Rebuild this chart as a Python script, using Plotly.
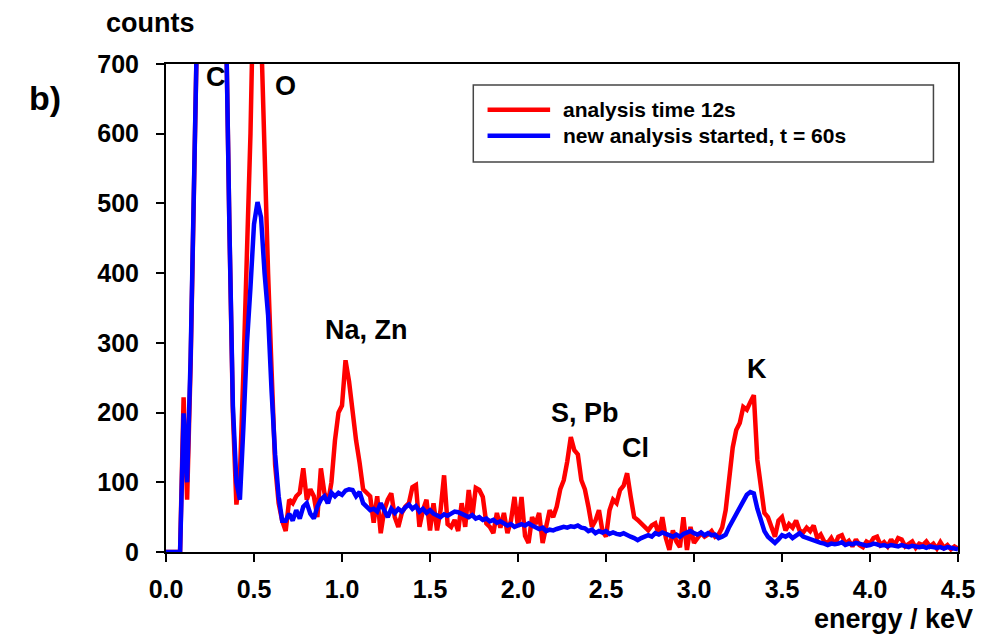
import numpy as np
import plotly.graph_objects as go

# Energy channels (keV), 0.02 keV spacing
energy = np.round(np.arange(0.0, 4.5001, 0.02), 2)

# Counts, 12 s acquisition
counts_12s = [
    0, 0, 0, 0, 0, 222, 75, 270, 520, 800,
    1100, 1300, 1450, 1500, 1450, 1300, 1050, 780, 470, 200,
    68, 110, 260, 420, 600, 850, 900, 750, 560, 400,
    260, 125, 70, 45, 30, 75, 70, 80, 85, 120,
    75, 90, 80, 50, 120, 85, 70, 100, 160, 200,
    210, 275, 245, 200, 160, 128, 90, 85, 80, 42,
    80, 27, 60, 75, 84, 50, 36, 56, 65, 70,
    93, 96, 36, 60, 75, 31, 70, 31, 60, 110,
    40, 36, 46, 30, 70, 36, 89, 50, 92, 89,
    79, 41, 36, 27, 56, 35, 56, 27, 45, 79,
    36, 79, 23, 13, 50, 40, 56, 13, 40, 60,
    50, 65, 90, 103, 130, 165, 146, 140, 103, 90,
    65, 36, 45, 60, 30, 22, 60, 75, 70, 89,
    95, 113, 80, 50, 46, 41, 35, 31, 38, 41,
    25, 50, 20, 3, 31, 15, 7, 50, 3, 36,
    13, 20, 27, 22, 25, 30, 22, 25, 35, 60,
    103, 150, 175, 185, 208, 204, 215, 225, 132, 90,
    56, 50, 36, 22, 45, 50, 31, 40, 35, 45,
    31, 28, 35, 30, 38, 20, 25, 15, 13, 20,
    10, 22, 24, 12, 16, 8, 18, 10, 7, 15,
    12, 20, 22, 10, 14, 8, 18, 10, 20, 18,
    8, 12, 15, 6, 12, 10, 15, 8, 12, 5,
    14, 6, 10, 4, 8, 5,
]

# Counts, new analysis started at t = 60 s
counts_60s = [
    0, 0, 0, 0, 0, 199, 100, 280, 520, 800,
    1100, 1300, 1450, 1500, 1450, 1300, 1050, 780, 470, 210,
    100, 75, 180, 300, 380, 470, 502, 480, 400, 340,
    230, 140, 80, 45, 45, 55, 45, 60, 48, 65,
    70, 55, 48, 65, 75, 80, 70, 85, 80, 85,
    82, 88, 90, 89, 80, 86, 70, 65, 60, 62,
    58, 70, 60, 50, 62, 56, 62, 58, 64, 68,
    62, 66, 58, 62, 56, 60, 55, 52, 50, 54,
    52, 55, 58, 57, 55, 52, 50, 53, 48, 50,
    46, 48, 44, 46, 42, 44, 40, 38, 40, 36,
    38, 40, 38, 41, 38, 36, 33, 35, 30, 32,
    31, 33, 34, 36, 35, 37, 36, 38, 35, 34,
    30, 32, 27, 30, 28, 30, 26, 28, 26, 25,
    27, 24, 22, 20, 17, 20, 22, 24, 22, 27,
    25, 28, 26, 24, 22, 25, 22, 26, 28, 30,
    27, 25, 28, 24, 27, 24, 25, 20, 22, 25,
    36, 45, 55, 65, 75, 82, 86, 84, 62, 46,
    30, 22, 18, 13, 18, 24, 22, 25, 20, 24,
    27, 22, 20, 18, 16, 14, 13, 12, 10, 12,
    11, 12, 14, 10, 12, 11, 13, 12, 10, 9,
    10, 12, 11, 9, 10, 8, 10, 9, 8, 10,
    9, 7, 9, 8, 7, 8, 6, 8, 7, 6,
    7, 5, 7, 6, 5, 4,
]

series_names = ["analysis time 12s", "new analysis started, t = 60s"]
series_colors = ["rgb(255,0,0)", "rgb(0,0,255)"]

# Element labels and where they sit (keV, counts)
peak_labels = ["C", "O", "Na, Zn", "S, Pb", "Cl", "K"]
peak_label_e = [0.285, 0.68, 1.14, 2.38, 2.67, 3.36]
peak_label_c = [681, 669, 318, 200, 149, 263]

x_ticks = [0.0, 0.5, 1.0, 1.5, 2.0, 2.5, 3.0, 3.5, 4.0, 4.5]
y_ticks = [0, 100, 200, 300, 400, 500, 600, 700]

FONT = "Liberation Sans"
bold = dict(family=FONT, color="black", weight="bold")

fig = go.Figure()
for counts, name, color in zip([counts_12s, counts_60s], series_names, series_colors):
    fig.add_trace(go.Scatter(
        x=energy, y=counts, mode="lines", name=name,
        line=dict(color=color, width=4.5), showlegend=False,
    ))

for text, e, c in zip(peak_labels, peak_label_e, peak_label_c):
    fig.add_annotation(x=e, y=c, text=text, showarrow=False,
                       font=dict(bold, size=27), xanchor="center", yanchor="middle")

# Legend box drawn in paper coordinates
lx0, lx1, ly0, ly1 = 0.388, 0.969, 0.799, 0.957
fig.add_shape(type="rect", xref="paper", yref="paper", x0=lx0, x1=lx1, y0=ly0, y1=ly1,
              line=dict(color="rgb(70,70,70)", width=1.5), fillcolor="white", layer="above")
for i, (name, color) in enumerate(zip(series_names, series_colors)):
    yy = 0.906 - i * 0.053
    fig.add_shape(type="line", xref="paper", yref="paper", x0=0.406, x1=0.485, y0=yy, y1=yy,
                  line=dict(color=color, width=4.5), layer="above")
    fig.add_annotation(xref="paper", yref="paper", x=0.499, y=yy, text=name, showarrow=False,
                       xanchor="left", yanchor="middle", font=dict(bold, size=21))

fig.add_annotation(xref="paper", yref="paper", x=-0.019, y=1.084, text="counts", showarrow=False,
                   xanchor="center", yanchor="middle", font=dict(bold, size=27))
fig.add_annotation(xref="paper", yref="paper", x=1.022, y=-0.137, text="energy / keV", showarrow=False,
                   xanchor="right", yanchor="middle", font=dict(bold, size=27))
fig.add_annotation(xref="paper", yref="paper", x=-0.153, y=0.930, text="b)", showarrow=False,
                   xanchor="center", yanchor="middle", font=dict(bold, size=34))

axis_common = dict(showgrid=False, zeroline=False, showline=True, linecolor="black", linewidth=2,
                   mirror=True, ticks="outside", ticklen=8, tickwidth=2, tickcolor="black",
                   tickfont=dict(bold, size=25))
fig.update_xaxes(range=[0, 4.5], tickvals=x_ticks, ticktext=[f"{v:.1f}" for v in x_ticks],
                 ticklabelstandoff=6, **axis_common)
fig.update_yaxes(range=[0, 700], tickvals=y_ticks, ticktext=[str(v) for v in y_ticks],
                 ticklabelstandoff=12, **axis_common)

fig.update_layout(
    width=994, height=638,
    margin=dict(l=166, r=36, t=64, b=86),
    paper_bgcolor="white", plot_bgcolor="white",
    font=dict(family=FONT),
)

fig.write_html("out.html")
